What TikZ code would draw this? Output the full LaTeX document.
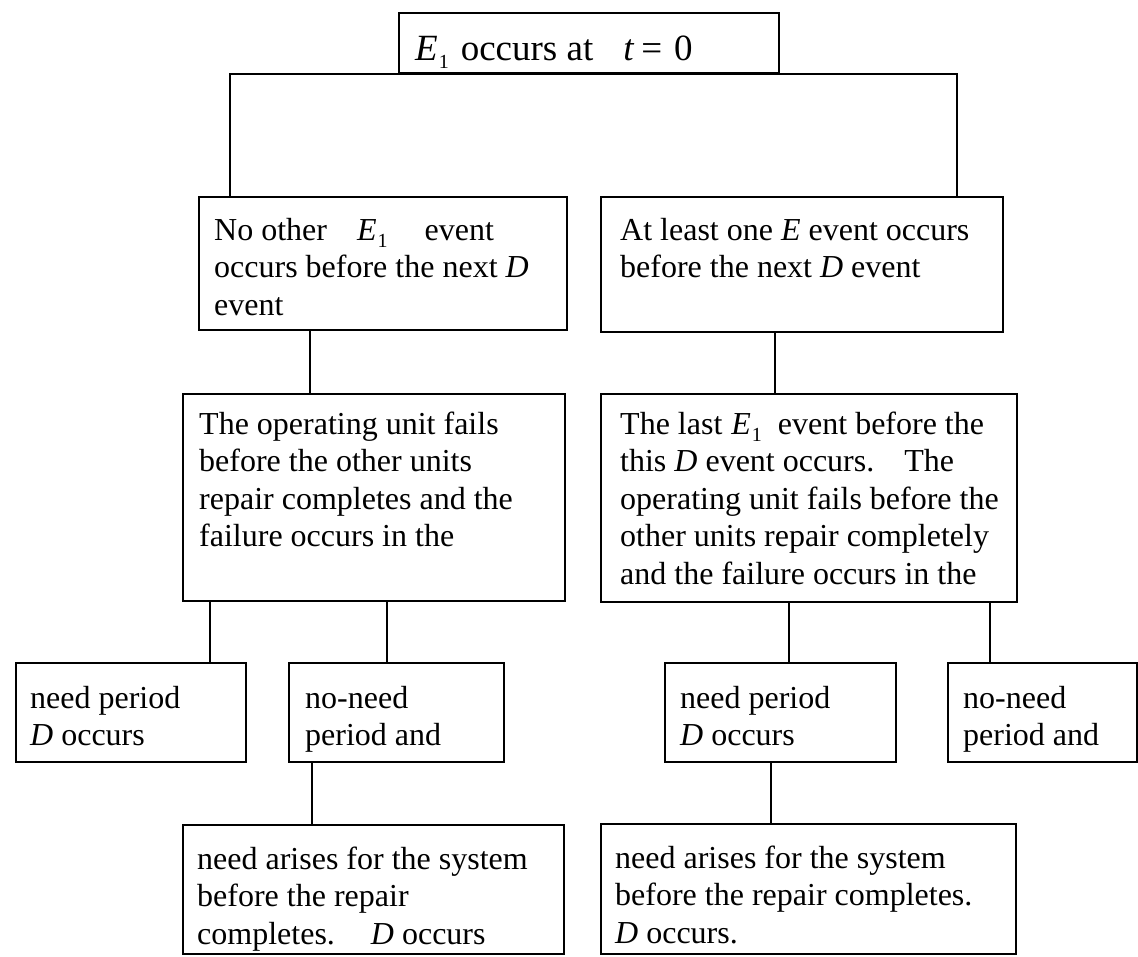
\documentclass[tikz,border=0pt]{standalone}
\usepackage{fontspec}
\setmainfont{Liberation Serif}

% left-aligned stack of lines whose baseline is the first line's baseline
\newcommand{\boxlines}[1]{\vtop{\halign{##\hfil\cr#1\crcr}}}
% E with a lowered upright 1
\newcommand{\Eone}{\textit{E}\kern1pt\raisebox{-0.5ex}{\fontsize{20}{20}\selectfont 1}}

\tikzset{
  box/.style={draw, line width=2.2pt, rectangle, inner sep=0pt, anchor=north west},
  txt/.style={anchor=base west, inner sep=0pt, font=\fontsize{32}{37.5}\selectfont},
  link/.style={line width=2.2pt}
}

\begin{document}
\begin{tikzpicture}[x=1pt,y=-1pt]
\useasboundingbox (0,0) rectangle (1138,956);

% boxes
\node[box, minimum width=380pt, minimum height=60pt]  (top) at (398,12)  {};
\node[box, minimum width=368pt, minimum height=133pt] (l2)  at (198,196) {};
\node[box, minimum width=402pt, minimum height=135pt] (r2)  at (600,196) {};
\node[box, minimum width=382pt, minimum height=207pt] (l3)  at (182,393) {};
\node[box, minimum width=416pt, minimum height=208pt] (r3)  at (600,393) {};
\node[box, minimum width=230pt, minimum height=99pt]  (a)   at (15,662)  {};
\node[box, minimum width=215pt, minimum height=99pt]  (b)   at (288,662) {};
\node[box, minimum width=231pt, minimum height=99pt]  (c)   at (664,662) {};
\node[box, minimum width=189pt, minimum height=99pt]  (d)   at (947,662) {};
\node[box, minimum width=381pt, minimum height=129pt] (e)   at (182,824) {};
\node[box, minimum width=415pt, minimum height=130pt] (f)   at (600,823) {};

% texts
\node[txt, font=\fontsize{37}{40}\selectfont] (ttop) at (415,60)
  {\Eone\hspace{12pt}occurs at\hspace{30pt}\textit{t}\hspace{7pt}=\hspace{12pt}0};
\node[txt] (tl2) at (214,240) {\boxlines{No other\hspace{30pt}\Eone\hspace{37pt}event\cr
  occurs before the next \textit{D}\cr event}};
\node[txt] (tr2) at (620,240) {\boxlines{At least one \textit{E} event occurs\cr
  before the next \textit{D} event}};
\node[txt] (tl3) at (199,434) {\boxlines{The operating unit fails\cr before the other units\cr
  repair completes and the\cr failure occurs in the}};
\node[txt] (tr3) at (620,434) {\boxlines{The last\hspace{9pt}\Eone\hspace{16pt}event before the\cr
  this \textit{D} event occurs.\hspace{30pt}The\cr operating unit fails before the\cr
  other units repair completely\cr and the failure occurs in the}};
\node[txt] (ta) at (30,708)  {\boxlines{need period\cr \textit{D} occurs}};
\node[txt] (tb) at (305,708) {\boxlines{no-need\cr period and}};
\node[txt] (tc) at (680,708) {\boxlines{need period\cr \textit{D} occurs}};
\node[txt] (td) at (963,708) {\boxlines{no-need\cr period and}};
\node[txt] (te) at (197,869) {\boxlines{need arises for the system\cr before the repair\cr
  completes.\hspace{36pt}\textit{D} occurs}};
\node[txt] (tf) at (615,868) {\boxlines{need arises for the system\cr
  before the repair completes.\cr \textit{D} occurs.}};

% connectors
\draw[link] (l2.north -| 230,0) -- (top.south -| 230,0) -- (top.south -| 957,0) -- (r2.north -| 957,0);
\draw[link] (l2.south -| 310,0) -- (l3.north -| 310,0);
\draw[link] (r2.south -| 775,0) -- (r3.north -| 775,0);
\draw[link] (l3.south -| 210,0) -- (a.north -| 210,0);
\draw[link] (l3.south -| 387,0) -- (b.north -| 387,0);
\draw[link] (r3.south -| 789,0) -- (c.north -| 789,0);
\draw[link] (r3.south -| 990,0) -- (d.north -| 990,0);
\draw[link] (b.south -| 312,0) -- (e.north -| 312,0);
\draw[link] (c.south -| 771,0) -- (f.north -| 771,0);
\end{tikzpicture}
\end{document}
